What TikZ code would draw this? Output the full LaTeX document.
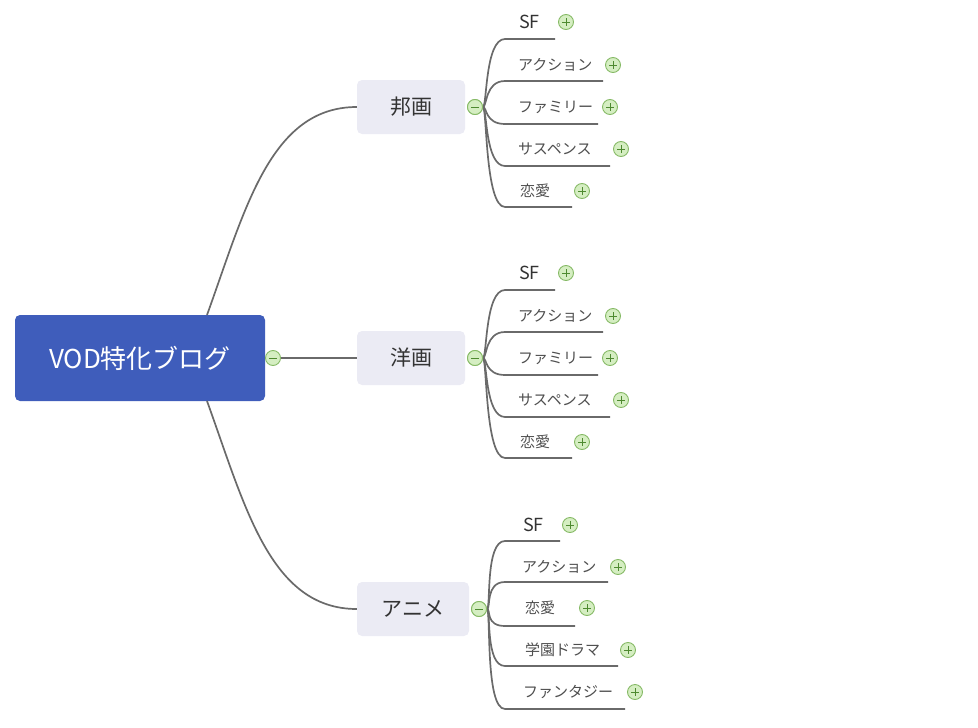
\documentclass[tikz,border=0pt]{standalone}
\usepackage{fontspec}
\setmainfont{Noto Sans CJK JP}
\usetikzlibrary{calc}
\definecolor{rootblue}{HTML}{3F5DBB}
\definecolor{mainfill}{HTML}{EBEBF4}
\definecolor{linegray}{HTML}{6A6A6A}
\definecolor{txtgray}{HTML}{4E4E4E}
\definecolor{maintxt}{HTML}{333333}
\definecolor{btnfill}{HTML}{D5EEC2}
\definecolor{btnedge}{HTML}{86BA66}
\definecolor{btnsign}{HTML}{4E8A30}
\tikzset{
  conn/.style={draw=linegray, line width=1.7pt},
  rootbox/.style={rectangle, rounded corners=5pt, fill=rootblue, text=white,
    minimum width=250pt, minimum height=86pt, font=\fontsize{26}{28}\selectfont},
  mainbox/.style={rectangle, rounded corners=5pt, fill=mainfill, text=maintxt,
    minimum height=54pt, font=\fontsize{21}{23}\selectfont},
  childtxt/.style={anchor=west, inner sep=0pt, text=txtgray, font=\fontsize{15}{16}\selectfont},
  sftxt/.style={anchor=west, inner sep=0pt, text=maintxt, font=\fontsize{18}{19}\selectfont},
  plusbtn/.style={circle, draw=btnedge, fill=btnfill, line width=0.9pt, minimum size=15pt, inner sep=0pt,
    path picture={
      \draw[btnsign, line width=0.9pt] ([xshift=3.5pt]path picture bounding box.west) -- ([xshift=-3.5pt]path picture bounding box.east);
      \draw[btnsign, line width=0.9pt] ([yshift=-3.5pt]path picture bounding box.north) -- ([yshift=3.5pt]path picture bounding box.south);
    }},
  minusbtn/.style={circle, draw=btnedge, fill=btnfill, line width=0.9pt, minimum size=15pt, inner sep=0pt,
    path picture={
      \draw[btnsign, line width=0.9pt] ([xshift=3.5pt]path picture bounding box.west) -- ([xshift=-3.5pt]path picture bounding box.east);
    }},
}
% #1 group, #2 index, #3 text, #4 text x, #5 text y, #6 line y, #7 line end x, #8 plus x, #9 style
\newcommand{\mmchild}[9]{%
  \node[#9] (#1t#2) at (#4,#5) {#3};
  \node[plusbtn] (#1p#2) at (#8,#5) {};
  \coordinate (#1s#2) at (505,#6);
  \coordinate (#1e#2) at (#7,#6);
  \draw[conn] (#1m) .. controls ($(#1m)+(12,0)$) and ($(#1s#2)+(-20,0)$) .. (#1s#2) -- (#1e#2);
}
\begin{document}
\begin{tikzpicture}[x=1pt,y=-1pt]
\useasboundingbox (0,0) rectangle (978,728);
% root
\node[rootbox] (root) at (140,358) {VOD特化ブログ};
\node[minusbtn] (rootm) at (273,358) {};
% main nodes
\node[mainbox, minimum width=108pt] (A) at (411,107) {邦画};
\node[mainbox, minimum width=108pt] (B) at (411,358) {洋画};
\node[mainbox, minimum width=112pt] (C) at (413,609) {アニメ};
% root connectors
\coordinate (rtop) at (207,315);
\coordinate (rbot) at (207,401);
\draw[conn] (rtop) .. controls (245,210) and (270,107) .. (A.west);
\draw[conn] (rbot) .. controls (245,506) and (270,609) .. (C.west);
\draw[conn] (rootm.east) -- (B.west);
% group buttons
\node[minusbtn] (Am) at (475,107) {};
\node[minusbtn] (Bm) at (475,358) {};
\node[minusbtn] (Cm) at (479,609) {};
% group A
\mmchild{A}{1}{SF}{519}{22}{39}{555}{566}{sftxt}
\mmchild{A}{2}{アクション}{518}{65}{81}{603}{613}{childtxt}
\mmchild{A}{3}{ファミリー}{518}{107}{124}{598}{610}{childtxt}
\mmchild{A}{4}{サスペンス}{518}{149}{166}{610}{621}{childtxt}
\mmchild{A}{5}{恋愛}{520}{191}{207}{572}{582}{childtxt}
% group B
\mmchild{B}{1}{SF}{519}{273}{290}{555}{566}{sftxt}
\mmchild{B}{2}{アクション}{518}{316}{332}{603}{613}{childtxt}
\mmchild{B}{3}{ファミリー}{518}{358}{375}{598}{610}{childtxt}
\mmchild{B}{4}{サスペンス}{518}{400}{417}{610}{621}{childtxt}
\mmchild{B}{5}{恋愛}{520}{442}{458}{572}{582}{childtxt}
% group C
\mmchild{C}{1}{SF}{523}{525}{541}{560}{570}{sftxt}
\mmchild{C}{2}{アクション}{522}{567}{582}{608}{618}{childtxt}
\mmchild{C}{3}{恋愛}{525}{608}{626}{575}{587}{childtxt}
\mmchild{C}{4}{学園ドラマ}{525}{650}{666}{618}{628}{childtxt}
\mmchild{C}{5}{ファンタジー}{523}{692}{709}{625}{635}{childtxt}
% redraw buttons on top
\node[minusbtn] at (Am) {};
\node[minusbtn] at (Bm) {};
\node[minusbtn] at (Cm) {};
\end{tikzpicture}
\end{document}
